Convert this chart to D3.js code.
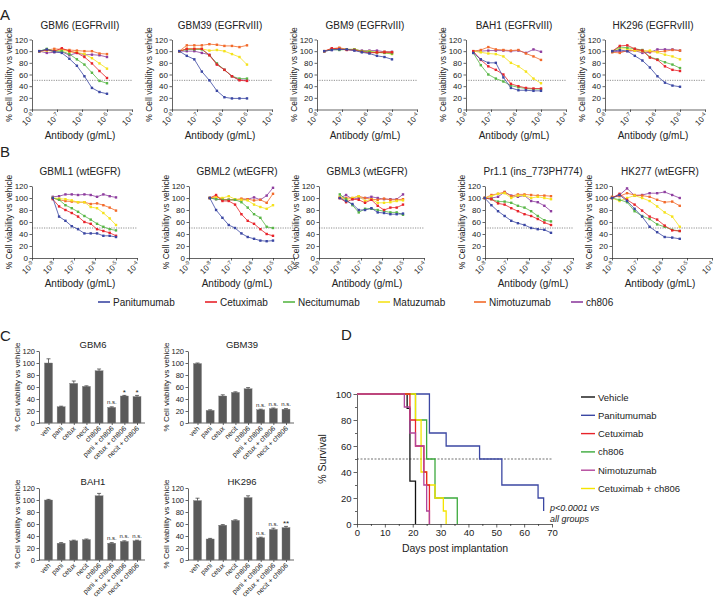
<!DOCTYPE html>
<html><head><meta charset="utf-8">
<script src="https://cdn.jsdelivr.net/npm/d3@7"></script>
<style>body{margin:0;background:#fff} svg text{font-family:"Liberation Sans",Arial,Helvetica,sans-serif;fill:#222}</style>
</head><body><svg id="c" width="724" height="605"></svg>
<script>
// ---------- DATA ----------
const drugs = ["Panitumumab","Cetuximab","Necitumumab","Matuzumab","Nimotuzumab","ch806"];
const drugColors = ["#3b47a3","#e8232a","#58b646","#f5e21a","#f26a2a","#8e3e9f"];
const expsA = [-8,-7,-6,-5,-4];
const expsB = [-9,-8,-7,-6,-5,-4];
const concA = [1.95e-8,3.91e-8,7.81e-8,1.56e-7,3.13e-7,6.25e-7,1.25e-6,2.5e-6,5e-6,1e-5];
const concB = [9.77e-9,1.95e-8,3.91e-8,7.81e-8,1.56e-7,3.13e-7,6.25e-7,1.25e-6,2.5e-6,5e-6,1e-5];
const concHK277 = [1e-8,2e-8,4e-8,8e-8,1.6e-7,3.2e-7,6.4e-7,1.28e-6,2.56e-6,5.12e-6];
// order: pani, cetux, necit, matu, nimo, ch806
const gbm6 = [[100,103,99,97,87,75,57,37,30,27],[100,102,100,105,100,97,90,79,66,54],[100,104,100,100,95,86,77,63,49,45],[100,101,100,102,99,98,95,88,79,70],[100,102,104,103,102,101,100,100,96,95],[100,97,98,99,93,97,94,94,93,90]];
const gbm39 = [[100,92,86,65,50,32,21,19,19,19],[100,104,104,104,93,77,68,57,50,49],[100,103,103,103,93,79,68,57,53,53],[100,104,104,104,101,102,100,95,90,77],[100,110,110,110,112,111,109,109,107,110],[100,100,100,97,94,78,68,57,51,50]];
const gbm9 = [[100,102,103,103,101,98,96,92,90,86],[100,105,104,102,102,99,97,98,98,98],[100,103,102,103,103,100,99,98,97,96],[100,103,104,103,103,100,100,98,97,95],[100,104,106,103,103,100,98,97,99,98],[100,102,105,103,102,101,101,101,99,99]];
const bah1 = [[97,86,80,80,55,37,33,33,32,32],[100,85,74,68,60,44,40,37,36,36],[97,76,60,53,48,41,38,36,35,35],[100,98,96,95,91,80,74,65,53,45],[100,102,107,103,102,101,102,96,91,85],[100,100,101,101,101,100,101,97,103,99]];
const hk296 = [[100,102,100,92,84,72,57,46,41,39],[100,109,110,104,101,89,85,74,68,66],[100,107,106,104,102,90,86,81,77,71],[100,104,104,101,100,101,98,94,91,86],[98,97,101,101,101,99,99,100,102,101],[100,99,100,101,97,98,103,103,103,101]];
const gbml1 = [[100,69,62,53,48,41,41,41,37,37,35],[98,86,80,75,69,60,57,48,45,42,37],[100,97,88,83,77,70,64,57,52,48,46],[100,99,98,96,93,93,85,83,75,66,55],[100,97,95,94,93,93,90,91,88,84,79],[102,103,106,106,105,106,105,102,106,103,101]];
const gbml2 = [[100,80,67,55,50,41,35,32,29,28,29],[100,105,95,95,89,73,62,57,48,40,37],[100,98,97,97,97,93,84,73,67,52,50],[100,102,100,103,98,97,96,89,85,82,88],[100,102,98,97,97,99,98,96,97,92,107],[100,98,97,97,97,97,98,101,97,104,117]];
const gbml3 = [[100,95,90,80,80,83,76,75,73,73,74],[100,93,98,97,92,97,87,80,84,84,89],[106,98,88,76,82,82,80,78,76,76,72],[102,97,100,103,95,98,92,92,93,95,96],[100,100,100,103,100,98,97,99,97,97,98],[100,105,98,100,100,102,100,98,98,98,106]];
const pr11 = [[100,88,78,70,62,58,55,50,48,47,42],[100,98,91,89,83,78,73,70,65,59,55],[100,98,94,94,92,87,84,78,70,63,61],[100,103,107,108,100,104,104,100,102,100,98],[100,105,107,110,103,106,106,105,104,104,103],[100,100,102,110,104,102,104,95,93,87,78]];
const hk277 = [[100,105,95,82,69,52,43,35,34,32],[100,107,97,89,79,69,64,54,46,45],[100,97,93,78,70,65,56,52,47,45],[100,95,100,104,100,95,86,76,69,52],[102,103,108,105,104,102,97,93,94,87],[100,105,116,104,105,108,108,110,105,100]];

const barCats = ["veh","pani","cetux","necit","ch806","pani + ch806","cetux + ch806","necit + ch806"];
const cGBM6 = [100,27,66,61,87,26,45,44], eGBM6 = [7,1,4,1,3,1,1,2], sGBM6 = ["","","","","","n.s.","*","*"];
const cGBM39 = [99,21,45,51,57,22,24,23], eGBM39 = [1,1,2,1,2,1,1,1], sGBM39 = ["","","","","","n.s.","n.s.","n.s."];
const cBAH1 = [100,28,32,34,107,28,31,32], eBAH1 = [1,1,1,1,4,1,1,1], sBAH1 = ["","","","","","n.s.","n.s.","n.s."];
const cHK296 = [99,35,58,66,104,37,51,54], eHK296 = [4,1,1,1,3,1,2,2], sHK296 = ["","","","","","n.s.","n.s.","**"];

const survGroups = ["Vehicle","Panitumumab","Cetuximab","ch806","Nimotuzumab","Cetuximab + ch806"];
const survColors = ["#111111","#3b47a3","#e8232a","#3daa3d","#b3449a","#f5e400"];
const survVehicle = [[0,100],[18,89],[19,33],[21,0]];
const survPani = [[0,100],[26,70],[32,60],[44,50],[52,30],[65,20],[67,10]];
const survCetux = [[0,100],[19,80],[21,60],[24,40],[25,30],[26,0]];
const survCh806 = [[0,100],[21,80],[25,50],[28,20],[36,0]];
const survNimo = [[0,100],[17,90],[19,70],[21,60],[24,30],[25,10],[26,0]];
const survCombo = [[0,100],[21,80],[23,40],[25,30],[28,20],[31,10],[32,0]];

// ---------- DRAW ----------
const svg = d3.select("#c");
const FONT = '"Liberation Sans",Arial,Helvetica,sans-serif';
function styleAxis(sel, fs){
  sel.attr("font-family",FONT).attr("font-size",fs);
  sel.selectAll("path,line").attr("stroke","#222").attr("stroke-width",0.7);
  sel.selectAll("text").attr("fill","#222");
}
function panelLetter(t,x,y){ svg.append("text").attr("x",x).attr("y",y).attr("font-size",15).text(t); }
panelLetter("A",0,20); panelLetter("B",0,157); panelLetter("C",0,341); panelLetter("D",341,340);

function dosePlot(cfg){
  const g = svg.append("g");
  const x = d3.scaleLog().domain([10**cfg.exps[0],10**cfg.exps[cfg.exps.length-1]]).range([cfg.x0,cfg.x0+cfg.w]);
  const y = d3.scaleLinear().domain([0,120]).range([cfg.yb,cfg.yt]);
  g.append("line").attr("x1",cfg.x0).attr("x2",cfg.x0+cfg.w).attr("y1",y(50)).attr("y2",y(50))
    .attr("stroke","#444").attr("stroke-width",0.6).attr("stroke-dasharray","1.2,1.2");
  g.append("g").attr("transform",`translate(${cfg.x0},0)`)
    .call(d3.axisLeft(y).tickValues(d3.range(0,121,20)).tickSize(2.5).tickSizeOuter(0).tickPadding(1.5))
    .call(styleAxis,8);
  g.append("g").attr("transform",`translate(0,${cfg.yb})`)
    .call(d3.axisBottom(x).tickValues(cfg.exps.map(e=>10**e)).tickSize(2.5).tickSizeOuter(0).tickFormat(""))
    .call(styleAxis,8);
  cfg.exps.forEach(e=>{
    const t = g.append("text").attr("font-size",8).attr("text-anchor","end")
      .attr("transform",`translate(${x(10**e)+3},${cfg.yb+7}) rotate(-45)`);
    t.append("tspan").text("10");
    t.append("tspan").attr("dy",-3).attr("font-size",5.5).text(e);
  });
  [5,4,3,2,1,0].forEach(k=>{
    const vals = cfg.data[k];
    const pts = vals.map((v,i)=>[x(cfg.conc[i]),y(v)]);
    g.append("path").attr("d",d3.line()(pts)).attr("fill","none").attr("stroke",drugColors[k]).attr("stroke-width",0.8);
    g.append("g").selectAll("rect").data(pts).join("rect")
      .attr("x",p=>p[0]-1.2).attr("y",p=>p[1]-1.2).attr("width",2.4).attr("height",2.4).attr("fill",drugColors[k]);
  });
  const cx = cfg.x0 + 48;
  g.append("text").attr("x",cx).attr("y",cfg.yt-11).attr("text-anchor","middle").attr("font-size",10).text(cfg.title);
  g.append("text").attr("x",cx).attr("y",cfg.yb+29).attr("text-anchor","middle").attr("font-size",10).text("Antibody (g/mL)");
  g.append("text").attr("transform",`translate(${cfg.x0-20},${(cfg.yt+cfg.yb)/2}) rotate(-90)`)
    .attr("text-anchor","middle").attr("font-size",8.5).text("% Cell viability vs vehicle");
}

const rowA = [
  {title:"GBM6 (EGFRvIII)",x0:32,data:gbm6},
  {title:"GBM39 (EGFRvIII)",x0:172,data:gbm39},
  {title:"GBM9 (EGFRvIII)",x0:317,data:gbm9},
  {title:"BAH1 (EGFRvIII)",x0:466,data:bah1},
  {title:"HK296 (EGFRvIII)",x0:605,data:hk296}];
rowA.forEach(c=>dosePlot(Object.assign({yt:39.5,yb:109.5,w:100,exps:expsA,conc:concA},c)));

const rowB = [
  {title:"GBML1 (wtEGFR)",x0:32,data:gbml1,exps:expsB,w:105,conc:concB},
  {title:"GBML2 (wtEGFR)",x0:189,data:gbml2,exps:expsB,w:105,conc:concB},
  {title:"GBML3 (wtEGFR)",x0:319,data:gbml3,exps:expsB,w:105,conc:concB},
  {title:"Pr1.1 (ins_773PH774)",x0:485,data:pr11,exps:expsA,w:88,conc:concB},
  {title:"HK277 (wtEGFR)",x0:612,data:hk277,exps:expsA,w:100,conc:concHK277}];
rowB.forEach(c=>dosePlot(Object.assign({yt:186,yb:258},c)));

// legend B
const legX = [98,205,283,378,474,571];
drugs.forEach((d,i)=>{
  svg.append("line").attr("x1",legX[i]).attr("x2",legX[i]+12).attr("y1",302).attr("y2",302)
    .attr("stroke",drugColors[i]).attr("stroke-width",1.6);
  svg.append("text").attr("x",legX[i]+15).attr("y",305.5).attr("font-size",10).text(d);
});

// ---------- Panel C ----------
function barPlot(cfg){
  const g = svg.append("g");
  const x = d3.scalePoint().domain(barCats).range([cfg.x0+9.5,cfg.x0+98]);
  const y = d3.scaleLinear().domain([0,120]).range([cfg.yb,cfg.yt]);
  g.append("g").attr("transform",`translate(${cfg.x0},0)`)
    .call(d3.axisLeft(y).tickValues(d3.range(0,121,20)).tickSize(2.5).tickSizeOuter(0).tickPadding(1.5))
    .call(styleAxis,7.5);
  g.append("g").attr("transform",`translate(0,${cfg.yb})`)
    .call(d3.axisBottom(x).tickSize(2).tickSizeOuter(0).tickFormat(""))
    .call(g2=>g2.select(".domain").attr("d",`M${cfg.x0},0H${cfg.x0+106}`))
    .call(styleAxis,7.5);
  g.selectAll("rect.bar").data(barCats).join("rect").attr("class","bar")
    .attr("x",c=>x(c)-4).attr("width",8)
    .attr("y",(c,i)=>y(cfg.vals[i])).attr("height",(c,i)=>cfg.yb-y(cfg.vals[i]))
    .attr("fill","#5a5a5a").attr("stroke","#7a7a7a").attr("stroke-width",0.4);
  barCats.forEach((c,i)=>{
    const e = cfg.errs[i], v = cfg.vals[i], cx = x(c);
    g.append("path").attr("d",`M${cx},${y(v)}V${y(v+e)}M${cx-2},${y(v+e)}H${cx+2}`)
      .attr("stroke","#333").attr("stroke-width",0.7).attr("fill","none");
    if(cfg.sig[i]){
      const star = cfg.sig[i].indexOf("*")>=0;
      g.append("text").attr("x",cx).attr("y",y(v+e)-(star?0:2.5)).attr("text-anchor","middle")
        .attr("font-size",star?8:6).attr("fill","#333").text(cfg.sig[i]);
    }
    g.append("text").attr("font-size",7).attr("text-anchor","end")
      .attr("transform",`translate(${cx+2.5},${cfg.yb+6}) rotate(-45)`).text(c);
  });
  g.append("text").attr("x",cfg.x0+54).attr("y",cfg.yt-3).attr("text-anchor","middle").attr("font-size",9.5).text(cfg.title);
  g.append("text").attr("transform",`translate(${cfg.x0-19},${(cfg.yt+cfg.yb)/2}) rotate(-90)`)
    .attr("text-anchor","middle").attr("font-size",8).text("% Cell viability vs vehicle");
}
barPlot({title:"GBM6",x0:39,yt:351,yb:423,vals:cGBM6,errs:eGBM6,sig:sGBM6});
barPlot({title:"GBM39",x0:188,yt:351,yb:423,vals:cGBM39,errs:eGBM39,sig:sGBM39});
barPlot({title:"BAH1",x0:39,yt:488,yb:560,vals:cBAH1,errs:eBAH1,sig:sBAH1});
barPlot({title:"HK296",x0:188,yt:488,yb:560,vals:cHK296,errs:eHK296,sig:sHK296});

// ---------- Panel D ----------
(function(){
  const g = svg.append("g");
  const x = d3.scaleLinear().domain([0,70]).range([357,552]);
  const y = d3.scaleLinear().domain([0,100]).range([524,394]);
  g.append("line").attr("x1",357).attr("x2",552).attr("y1",y(50)).attr("y2",y(50))
    .attr("stroke","#333").attr("stroke-width",0.7).attr("stroke-dasharray","2,1.5");
  g.append("g").attr("transform","translate(357,0)")
    .call(d3.axisLeft(y).tickValues(d3.range(0,101,20)).tickSize(3.5).tickSizeOuter(0).tickPadding(2))
    .call(styleAxis,9.5);
  g.append("g").attr("transform","translate(357,0)")
    .call(d3.axisLeft(y).tickValues(d3.range(10,100,20)).tickSize(2).tickSizeOuter(0).tickFormat(""))
    .call(s=>s.select(".domain").remove()).call(styleAxis,9.5);
  g.append("g").attr("transform","translate(0,524)")
    .call(d3.axisBottom(x).tickValues(d3.range(0,71,10)).tickSize(3.5).tickSizeOuter(0).tickPadding(2))
    .call(styleAxis,9.5);
  g.append("g").attr("transform","translate(0,524)")
    .call(d3.axisBottom(x).tickValues(d3.range(5,70,10)).tickSize(2).tickSizeOuter(0).tickFormat(""))
    .call(s=>s.select(".domain").remove()).call(styleAxis,9.5);
  const curves = [survPani,survVehicle,survCh806,survCombo,survCetux,survNimo];
  const cidx = [1,0,3,5,2,4];
  const line = d3.line().x(d=>x(d[0])).y(d=>y(d[1])).curve(d3.curveStepAfter);
  curves.forEach((c,j)=>{
    g.append("path").attr("d",line(c)).attr("fill","none").attr("stroke",survColors[cidx[j]]).attr("stroke-width",1.3);
  });
  g.append("text").attr("x",455).attr("y",552).attr("text-anchor","middle").attr("font-size",10.5).text("Days post implantation");
  g.append("text").attr("transform",`translate(326,459) rotate(-90)`).attr("text-anchor","middle").attr("font-size",10.5).text("% Survival");
  survGroups.forEach((s,i)=>{
    const yy = 397 + i*18.3;
    g.append("line").attr("x1",581).attr("x2",595).attr("y1",yy).attr("y2",yy).attr("stroke",survColors[i]).attr("stroke-width",1.4);
    g.append("text").attr("x",598).attr("y",yy+3.5).attr("font-size",9.5).text(s);
  });
  g.append("text").attr("x",550).attr("y",511).attr("font-size",9).attr("font-style","italic").text("p<0.0001 vs");
  g.append("text").attr("x",550).attr("y",522).attr("font-size",9).attr("font-style","italic").text("all groups");
})();
</script></body></html>
